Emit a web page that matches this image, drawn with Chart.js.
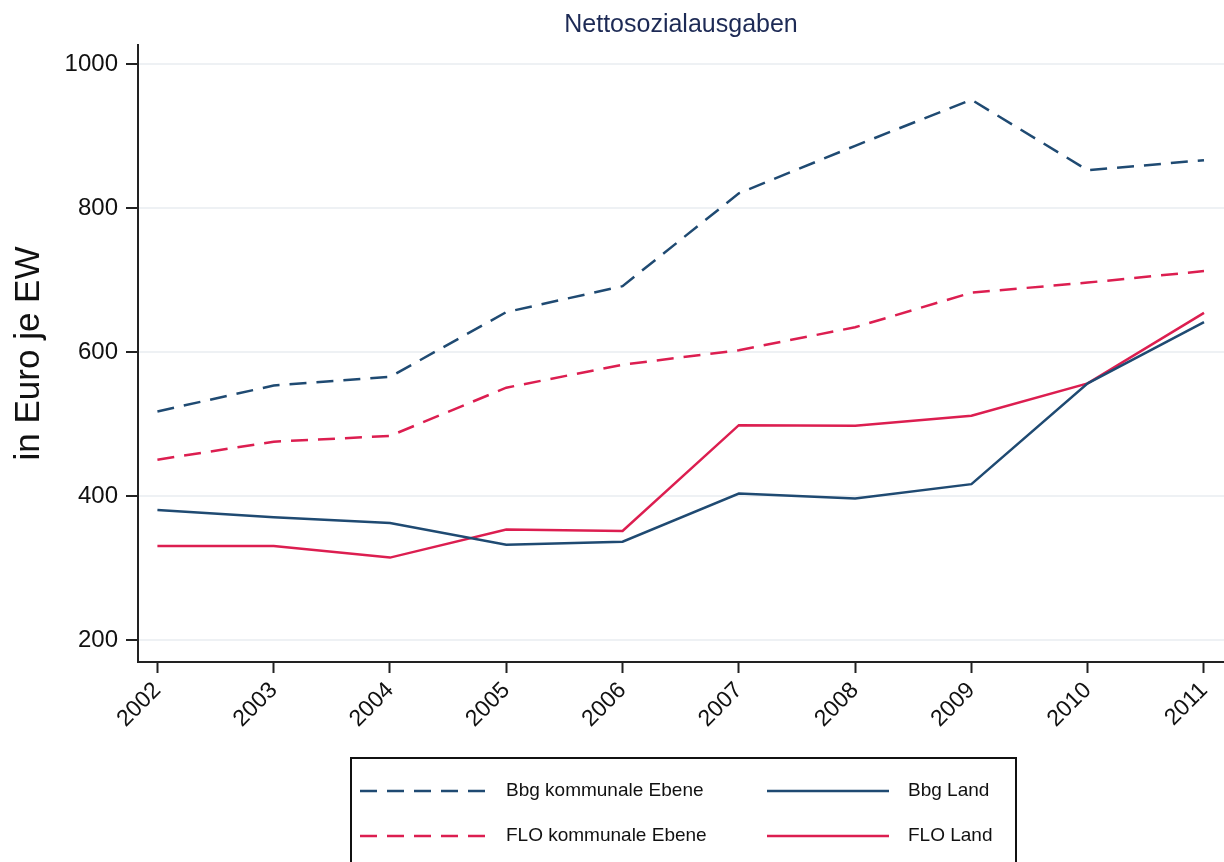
<!DOCTYPE html>
<html>
<head>
<meta charset="utf-8">
<title>Nettosozialausgaben</title>
<script src="https://cdn.jsdelivr.net/npm/chart.js@4.4.1/dist/chart.umd.min.js"></script>
<style>
  html, body { margin: 0; padding: 0; background: #fff; overflow: hidden; }
  canvas { display: block; }
</style>
</head>
<body>
<canvas id="sozialChart" width="1224" height="862"></canvas>
<script>
const years = [2002, 2003, 2004, 2005, 2006, 2007, 2008, 2009, 2010, 2011];
const yTicks = [200, 400, 600, 800, 1000];

// Euro je Einwohner
const bbgKommunal = [518, 554, 566, 656, 692, 821, 887, 951, 853, 867];
const floKommunal = [451, 476, 484, 551, 583, 603, 635, 683, 697, 713];
const bbgLand = [381, 371, 363, 333, 337, 404, 397, 417, 557, 642];
const floLand = [331, 331, 315, 354, 352, 499, 498, 512, 557, 655];

const NAVY = '#1f4a72';
const RED = '#dc1e50';
const DASH = [17, 10];

const toPoints = (vals) => years.map((y, i) => ({ x: y, y: vals[i] }));

// boxed two-column legend under the x axis
const boxLegend = {
  id: 'boxLegend',
  afterDraw(chart) {
    const ctx = chart.ctx;
    const ds = chart.data.datasets;
    const left = 351, top = 758, width = 665, height = 130;
    const cols = [{ line: [360, 485], text: 506 }, { line: [767, 889], text: 908 }];
    const rows = [791, 836];
    // dataset index per cell: row 1 Bbg, row 2 FLO
    const cells = [[0, 2], [1, 3]];
    ctx.save();
    ctx.strokeStyle = '#111';
    ctx.lineWidth = 2;
    ctx.strokeRect(left, top, width, height);
    ctx.font = '19px "Liberation Sans", Arial, sans-serif';
    ctx.fillStyle = '#111';
    ctx.textBaseline = 'middle';
    rows.forEach((y, r) => {
      cols.forEach((c, k) => {
        const d = ds[cells[r][k]];
        ctx.beginPath();
        ctx.setLineDash(d.borderDash || []);
        ctx.strokeStyle = d.borderColor;
        ctx.lineWidth = d.borderWidth;
        ctx.moveTo(c.line[0], y);
        ctx.lineTo(c.line[1], y);
        ctx.stroke();
        ctx.setLineDash([]);
        ctx.fillText(d.label, c.text, y);
      });
    });
    ctx.restore();
  }
};

Chart.defaults.font.family = '"Liberation Sans", Arial, sans-serif';
Chart.defaults.color = '#111';

new Chart(document.getElementById('sozialChart'), {
  type: 'line',
  data: {
    datasets: [
      { label: 'Bbg kommunale Ebene', data: toPoints(bbgKommunal), borderColor: NAVY, borderDash: DASH, borderWidth: 2.5 },
      { label: 'FLO kommunale Ebene', data: toPoints(floKommunal), borderColor: RED, borderDash: DASH, borderWidth: 2.5 },
      { label: 'Bbg Land', data: toPoints(bbgLand), borderColor: NAVY, borderWidth: 2.5 },
      { label: 'FLO Land', data: toPoints(floLand), borderColor: RED, borderWidth: 2.5 },
    ],
  },
  options: {
    responsive: false,
    animation: false,
    elements: { point: { radius: 0 }, line: { tension: 0 } },
    layout: { padding: { left: 0, right: 0, top: 0, bottom: 120 } },
    plugins: {
      legend: { display: false },
      tooltip: { enabled: false },
      title: {
        display: true,
        fullSize: false,
        text: 'Nettosozialausgaben',
        color: '#1d2a55',
        font: { size: 25, weight: 'normal' },
        padding: { top: 10, bottom: 5 },
      },
    },
    scales: {
      x: {
        type: 'linear',
        min: 2001.833,
        max: 2011.172,
        afterBuildTicks: (scale) => { scale.ticks = years.map((v) => ({ value: v })); },
        afterFit: (scale) => { scale.height = 80; scale.paddingLeft = 0; scale.paddingRight = 0; },
        ticks: {
          autoSkip: false,
          maxRotation: 45,
          minRotation: 45,
          padding: 4,
          font: { size: 23 },
          callback: (v) => String(v),
        },
        grid: { drawOnChartArea: false, tickLength: 11, tickColor: '#222', tickWidth: 2 },
        border: { color: '#222', width: 2 },
      },
      y: {
        min: 170,
        max: 1027,
        afterBuildTicks: (scale) => { scale.ticks = yTicks.map((v) => ({ value: v })); },
        afterFit: (scale) => { scale.width = 138; },
        ticks: { padding: 8, font: { size: 24 }, callback: (v) => String(v) },
        grid: { color: '#eef1f4', lineWidth: 2, tickLength: 12, tickColor: '#222', tickWidth: 2 },
        border: { color: '#222', width: 2 },
        title: { display: true, text: 'in Euro je EW', font: { size: 35 }, padding: { top: 8, bottom: 4 } },
      },
    },
  },
  plugins: [boxLegend],
});
</script>
</body>
</html>
